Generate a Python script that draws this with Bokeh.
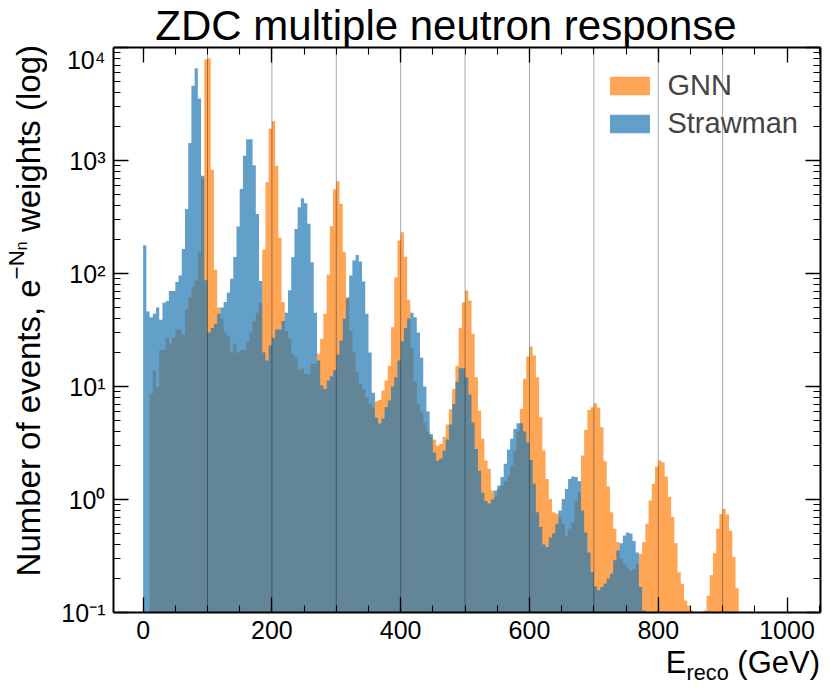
import numpy as np
from bokeh.plotting import figure
from bokeh.layouts import row, column
from bokeh.models import (Range1d, FixedTicker, SingleIntervalTicker, LinearAxis, LogAxis,
                          Legend, LegendItem, ColumnDataSource, Span, CustomJSTickFormatter, Div)
from bokeh.embed import file_html
from bokeh.resources import INLINE

BIN_WIDTH = 5  # GeV, bins start at 0

gnn_counts = [
    0, 0, 8.6, 13.7, 9.9, 21, 21, 27, 24, 27,
    32, 32, 29, 48, 62, 76, 87, 155, 690, 7840,
    8050, 830, 108, 50, 40, 30, 28, 20, 24, 20,
    21, 21, 25, 30, 38, 45, 55, 163, 643, 1905,
    2227, 900, 207, 56, 31, 26.4, 19.5, 18.2, 13.9, 14.3,
    12.9, 12.8, 15.9, 15.9, 19.5, 26.4, 44, 98, 262, 554,
    656, 414, 154, 62, 31, 20, 13.5, 10.5, 9.5, 8,
    7, 6.5, 7.4, 7.6, 9.2, 11.3, 15.3, 33.5, 92, 196,
    232, 141, 58.5, 22, 11, 7, 6, 4.8, 4.0, 3.6,
    3.4, 3.0, 3.1, 3.6, 4.6, 6.3, 9.5, 15.3, 33, 55.7,
    70.7, 57.7, 29.3, 12.1, 6.1, 3.44, 2.21, 1.87, 1.2, 1.05,
    1.24, 1.33, 1.45, 1.6, 2.0, 2.7, 4.0, 6.35, 11.7, 18.4,
    22.6, 18.8, 12.1, 5.35, 2.71, 1.52, 1.01, 0.77, 0.75, 0.7,
    0.61, 0.48, 0.55, 0.63, 0.97, 1.16, 2.45, 4.14, 6.2, 6.56,
    7.1, 6.47, 4.37, 2.18, 1.3, 0.77, 0.55, 0.42, 0.3, 0.27,
    0.25, 0.235, 0.243, 0.27, 0.33, 0.42, 0.61, 0.98, 1.38, 1.96,
    2.21, 2.14, 1.6, 1.06, 0.70, 0.41, 0.227, 0.18, 0.128, 0.115,
    0.104, 0, 0, 0, 0.104, 0.141, 0.215, 0.335, 0.55, 0.746,
    0.826, 0.736, 0.53, 0.31, 0.164, 0,
]

strawman_counts = [
    178, 46, 41, 44, 50, 39, 55, 57, 70, 70,
    84, 96, 165, 373, 1425, 4580, 6550, 3530, 733, 87,
    30, 33, 36, 44, 50, 56, 68, 90, 140, 260,
    560, 1100, 1540, 1540, 910, 336, 86, 20, 17, 23,
    27, 32, 32, 38, 45, 71, 139, 248, 386, 464,
    419, 275, 126, 45, 17, 10.2, 9.5, 11.3, 12.3, 13.9,
    19.2, 25.5, 39.7, 60, 96, 130, 146, 128, 85, 44,
    20, 8.8, 5.3, 4.7, 5.2, 6.6, 7.5, 10, 12.1, 17,
    25, 33, 40, 45, 41, 30, 18, 10, 6, 3.8,
    2.6, 2.2, 2.3, 2.7, 3.4, 4.6, 7, 11, 14.5, 14.5,
    12, 8.5, 4.8, 2.8, 1.8, 1.15, 0.97, 0.92, 1.0, 1.2,
    1.33, 1.58, 2.07, 2.75, 3.44, 4.2, 4.74, 4.74, 4.0, 3.2,
    2.24, 1.38, 0.77, 0.57, 0.40, 0.38, 0.46, 0.50, 0.61, 0.80,
    1.01, 1.24, 1.52, 1.6, 1.58, 1.45, 0.8, 0.51, 0.34, 0.227,
    0.17, 0.157, 0.168, 0.18, 0.2, 0.22, 0.29, 0.354, 0.41, 0.48,
    0.51, 0.5, 0.43, 0.34, 0.168, 0.104, 0, 0, 0, 0,
    0, 0, 0, 0, 0, 0, 0, 0, 0, 0,
    0, 0, 0, 0, 0, 0, 0, 0, 0, 0,
    0, 0, 0, 0, 0, 0,
]

neutron_energies = [100, 200, 300, 400, 500, 600, 700, 800, 900]
y_ticks = [0.1, 1.0, 10.0, 100.0, 1000.0, 10000.0]
y_tick_labels = ["10⁻¹", "10⁰", "10¹", "10²", "10³", "10⁴"]
series_names = ["GNN", "Strawman"]
series_colors = ["#ff7f0e", "#1f77b4"]
title_text = "ZDC multiple neutron response"

FONT = "Liberation Sans"
X0, X1 = -46, 1052
Y0, Y1 = 0.1, 1e4
FW, FH = 707, 565
FLOOR = 1e-3  # baseline below the visible log range

YLAB_W = 48          # width of the y-label strip
TITLE_H = 45         # height of the title strip
P_LEFT, P_RIGHT, P_TOP, P_BOTTOM = 65, 8, 2, 42
XLAB_H = 36
P_W = P_LEFT + FW + P_RIGHT
TOTAL_H = TITLE_H + P_TOP + FH + P_BOTTOM + XLAB_H

p = figure(frame_width=FW, frame_height=FH,
           x_range=Range1d(X0, X1), y_range=Range1d(Y0, Y1),
           y_axis_type="log", output_backend="svg", toolbar_location=None,
           min_border_left=P_LEFT, min_border_right=P_RIGHT,
           min_border_top=P_TOP, min_border_bottom=P_BOTTOM, margin=0)
p.grid.visible = False
p.outline_line_color = None
p.background_fill_color = "white"
p.border_fill_alpha = 0
bottom_axis = p.below[0]
left_axis = p.left[0]

edges = np.arange(len(gnn_counts) + 1) * BIN_WIDTH
renderers = []
for counts, color in zip([gnn_counts, strawman_counts], series_colors):
    c = np.array(counts, dtype=float)
    y2 = np.append(np.where(c > 0, c, FLOOR), FLOOR)
    src = ColumnDataSource(dict(x=edges, y1=np.full(len(edges), FLOOR), y2=y2))
    r = p.varea_step(x="x", y1="y1", y2="y2", step_mode="after", source=src,
                     fill_color=color, fill_alpha=0.7)
    renderers.append(r)

for e in neutron_energies:
    p.add_layout(Span(location=e, dimension="height", line_color="black",
                      line_alpha=0.35, line_width=1))

x_ticker = SingleIntervalTicker(interval=200, num_minor_ticks=4)
y_minor = [m * 10.0 ** k for k in range(-1, 4) for m in range(2, 10)]
y_ticker = FixedTicker(ticks=y_ticks, minor_ticks=y_minor)

bottom_axis.ticker = x_ticker
left_axis.ticker = y_ticker
left_axis.major_label_overrides = {t: lab for t, lab in zip(y_ticks, y_tick_labels)}

blank = CustomJSTickFormatter(code="return ''")
top_axis = LinearAxis(ticker=x_ticker, formatter=blank)
right_axis = LogAxis(ticker=y_ticker, formatter=blank)
p.add_layout(top_axis, "above")
p.add_layout(right_axis, "right")

for ax in [bottom_axis, left_axis, top_axis, right_axis]:
    ax.axis_line_color = "black"
    ax.axis_line_width = 2
    ax.major_tick_in = 15
    ax.major_tick_out = 0
    ax.minor_tick_in = 7
    ax.minor_tick_out = 0
    ax.major_tick_line_color = "black"
    ax.minor_tick_line_color = "black"
    ax.major_tick_line_width = 1.3
    ax.minor_tick_line_width = 1.1
    ax.major_label_text_font = FONT
    ax.major_label_text_font_size = "25px"
    ax.major_label_text_color = "black"
    ax.axis_label = None
bottom_axis.major_label_standoff = 8
left_axis.major_label_standoff = 8
for ax in [top_axis, right_axis]:
    ax.major_label_text_font_size = "0px"
    ax.major_label_standoff = 0

legend = Legend(items=[LegendItem(label=n, renderers=[r]) for n, r in zip(series_names, renderers)],
                location="top_right", margin=22, padding=0, spacing=5,
                glyph_width=50, glyph_height=23, label_standoff=13,
                label_text_font=FONT, label_text_font_size="29px",
                border_line_alpha=0, background_fill_alpha=0)
p.add_layout(legend)

font_css = "font-family:Liberation Sans,Arial,sans-serif;color:black;white-space:nowrap;"

# title, centred near x=446 of the page
title_div = Div(width=P_W, height=TITLE_H, margin=0, text=(
    f'<div style="position:relative;width:{P_W}px;height:{TITLE_H}px;">'
    f'<div style="position:absolute;left:{446 - YLAB_W}px;top:5px;transform:translateX(-50%);'
    f'{font_css}font-size:42px;line-height:42px;">{title_text}</div></div>'))

# x label: E_reco (GeV), right aligned with the frame's right edge
xlab_div = Div(width=P_W, height=XLAB_H, margin=0, text=(
    f'<div style="position:relative;width:{P_W}px;height:{XLAB_H}px;">'
    f'<div style="position:absolute;right:{P_RIGHT}px;top:-7px;{font_css}'
    f'font-size:31px;line-height:31px;">E<sub style="font-size:0.7em;">reco</sub> (GeV)</div></div>'))

# y label: Number of events, e^{-N_n} weights (log), ending at the frame's top
ylab_div = Div(width=YLAB_W, height=TOTAL_H, margin=0, text=(
    f'<div style="position:relative;width:{YLAB_W}px;height:{TOTAL_H}px;">'
    f'<div style="position:absolute;left:0px;top:45px;writing-mode:vertical-rl;'
    f'transform:rotate(180deg);{font_css}font-size:33px;line-height:33px;">'
    f'Number of events, e<sup style="font-size:0.68em;">−N<sub style="font-size:0.7em;">n</sub></sup>'
    f' weights (log)</div></div>'))

layout = row(ylab_div, column(title_div, p, xlab_div, spacing=0, margin=0), spacing=0, margin=0)

open("out.html", "w").write(file_html(layout, INLINE))
